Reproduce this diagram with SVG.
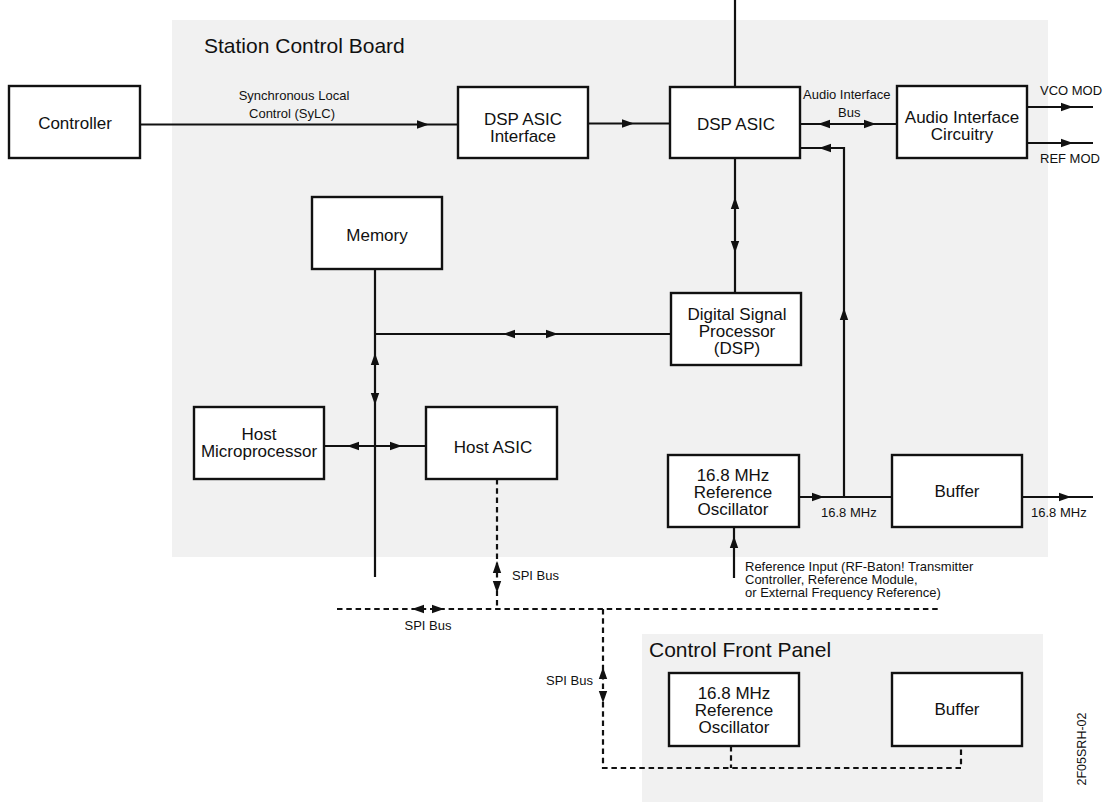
<svg xmlns="http://www.w3.org/2000/svg" xmlns:xlink="http://www.w3.org/1999/xlink" width="1107" height="802" viewBox="0 0 1107 802">
  <style>
    text { font-family: "Liberation Sans", Arial, Helvetica, sans-serif; fill: #111; }
    .panel { fill: #f1f1f1; stroke: none; }
    .title { font-size: 21px; }
    .box { fill: #fff; stroke: #111; stroke-width: 2.4; }
    .bt { font-size: 17px; text-anchor: middle; }
    .lbl { font-size: 13px; }
    .mid { text-anchor: middle; }
    .end { text-anchor: end; }
    .wire { fill: none; stroke: #111; stroke-width: 2.2; }
    .dash { fill: none; stroke: #111; stroke-width: 2.2; stroke-dasharray: 5.5 3.8; }
    .tag { font-size: 12.5px; text-anchor: middle; }
  </style>
  <defs>
    <!-- filled arrowhead, tip at the origin, pointing along +x -->
    <path id="ah" d="M0,0 L-12,-4.2 L-12,4.2 Z" fill="#111"/>
  </defs>

  <!-- board outlines -->
  <g id="station-control-board">
    <rect class="panel" x="172" y="20" width="876" height="537"/>
    <text class="title" x="204" y="53">Station Control Board</text>
  </g>
  <g id="control-front-panel">
    <rect class="panel" x="642" y="634" width="401" height="168"/>
    <text class="title" x="649" y="657">Control Front Panel</text>
  </g>

  <!-- connectors -->
  <g id="connectors">
    <!-- SyLC link -->
    <line class="wire" x1="140" y1="124.5" x2="458" y2="124.5"/>
    <use xlink:href="#ah" transform="translate(429,124.5)"/>
    <!-- DSP ASIC Interface to DSP ASIC -->
    <line class="wire" x1="588" y1="123.5" x2="670" y2="123.5"/>
    <use xlink:href="#ah" transform="translate(634,123.5)"/>
    <!-- line leaving the top of the DSP ASIC -->
    <line class="wire" x1="735" y1="0" x2="735" y2="87"/>
    <!-- audio interface bus -->
    <line class="wire" x1="800" y1="124" x2="897" y2="124"/>
    <use xlink:href="#ah" transform="translate(818,124) rotate(180)"/>
    <use xlink:href="#ah" transform="translate(876,124)"/>
    <!-- modulation outputs -->
    <line class="wire" x1="1027" y1="107" x2="1093" y2="107"/>
    <use xlink:href="#ah" transform="translate(1073,107)"/>
    <line class="wire" x1="1027" y1="143" x2="1093" y2="143"/>
    <use xlink:href="#ah" transform="translate(1073,143)"/>
    <!-- DSP ASIC to DSP -->
    <line class="wire" x1="735" y1="158" x2="735" y2="293"/>
    <use xlink:href="#ah" transform="translate(735,197) rotate(-90)"/>
    <use xlink:href="#ah" transform="translate(735,253) rotate(90)"/>
    <!-- 16.8 MHz feed back to the DSP ASIC -->
    <polyline class="wire" points="844,497 844,148 800,148"/>
    <use xlink:href="#ah" transform="translate(844,308) rotate(-90)"/>
    <use xlink:href="#ah" transform="translate(819,148) rotate(180)"/>
    <!-- oscillator to buffer, buffer output -->
    <line class="wire" x1="799" y1="497" x2="892" y2="497"/>
    <use xlink:href="#ah" transform="translate(824,497)"/>
    <line class="wire" x1="1022" y1="497" x2="1093" y2="497"/>
    <use xlink:href="#ah" transform="translate(1071,497)"/>
    <!-- reference input -->
    <line class="wire" x1="734" y1="578" x2="734" y2="527"/>
    <use xlink:href="#ah" transform="translate(734,536) rotate(-90)"/>
    <!-- memory / host bus -->
    <line class="wire" x1="375" y1="269" x2="375" y2="577"/>
    <line class="wire" x1="375" y1="334" x2="671" y2="334"/>
    <use xlink:href="#ah" transform="translate(503,334) rotate(180)"/>
    <use xlink:href="#ah" transform="translate(558,334)"/>
    <use xlink:href="#ah" transform="translate(375,353) rotate(-90)"/>
    <use xlink:href="#ah" transform="translate(375,405) rotate(90)"/>
    <line class="wire" x1="324" y1="446" x2="426" y2="446"/>
    <use xlink:href="#ah" transform="translate(347,446) rotate(180)"/>
    <use xlink:href="#ah" transform="translate(402,446)"/>
    <!-- SPI bus -->
    <line class="dash" x1="497" y1="479" x2="497" y2="609"/>
    <use xlink:href="#ah" transform="translate(497,561) rotate(-90)"/>
    <use xlink:href="#ah" transform="translate(497,593) rotate(90)"/>
    <line class="dash" x1="337" y1="609" x2="938" y2="609"/>
    <use xlink:href="#ah" transform="translate(412,609) rotate(180)"/>
    <use xlink:href="#ah" transform="translate(444,609)"/>
    <polyline class="dash" points="603,609 603,768 961,768 961,746"/>
    <line class="dash" x1="731" y1="746" x2="731" y2="768"/>
    <use xlink:href="#ah" transform="translate(603,667) rotate(-90)"/>
    <use xlink:href="#ah" transform="translate(603,703) rotate(90)"/>
  </g>

  <!-- connector labels -->
  <g id="labels">
    <text class="lbl mid"><tspan x="294" y="100">Synchronous Local</tspan><tspan x="292" y="118">Control (SyLC)</tspan></text>
    <text class="lbl"><tspan x="803" y="99">Audio Interface</tspan><tspan x="838" y="117">Bus</tspan></text>
    <text class="lbl" x="1040" y="95">VCO MOD</text>
    <text class="lbl" x="1040" y="163">REF MOD</text>
    <text class="lbl" x="821" y="517">16.8 MHz</text>
    <text class="lbl" x="1031" y="517">16.8 MHz</text>
    <text class="lbl"><tspan x="745" y="571">Reference Input (RF-Baton! Transmitter</tspan><tspan x="745" y="584">Controller, Reference Module,</tspan><tspan x="745" y="597">or External Frequency Reference)</tspan></text>
    <text class="lbl" x="512" y="580">SPI Bus</text>
    <text class="lbl mid" x="428" y="630">SPI Bus</text>
    <text class="lbl end" x="593" y="685">SPI Bus</text>
  </g>

  <!-- nodes -->
  <g id="controller">
    <rect class="box" x="9" y="86" width="131" height="72"/>
    <text class="bt" x="75" y="129">Controller</text>
  </g>
  <g id="dsp-asic-interface">
    <rect class="box" x="458" y="87" width="130" height="71"/>
    <text class="bt"><tspan x="523" y="125">DSP ASIC</tspan><tspan x="523" y="142">Interface</tspan></text>
  </g>
  <g id="dsp-asic">
    <rect class="box" x="670" y="87" width="130" height="71"/>
    <text class="bt" x="736" y="130">DSP ASIC</text>
  </g>
  <g id="audio-interface-circuitry">
    <rect class="box" x="897" y="86" width="130" height="72"/>
    <text class="bt"><tspan x="962" y="123">Audio Interface</tspan><tspan x="962" y="140">Circuitry</tspan></text>
  </g>
  <g id="memory">
    <rect class="box" x="312" y="197" width="130" height="72"/>
    <text class="bt" x="377" y="241">Memory</text>
  </g>
  <g id="dsp">
    <rect class="box" x="671" y="293" width="130" height="72"/>
    <text class="bt"><tspan x="737" y="320">Digital Signal</tspan><tspan x="737" y="337">Processor</tspan><tspan x="737" y="354">(DSP)</tspan></text>
  </g>
  <g id="host-microprocessor">
    <rect class="box" x="194" y="407" width="130" height="72"/>
    <text class="bt"><tspan x="259" y="440">Host</tspan><tspan x="259" y="457">Microprocessor</tspan></text>
  </g>
  <g id="host-asic">
    <rect class="box" x="426" y="407" width="131" height="72"/>
    <text class="bt" x="493" y="453">Host ASIC</text>
  </g>
  <g id="reference-oscillator">
    <rect class="box" x="668" y="455" width="131" height="72"/>
    <text class="bt"><tspan x="733" y="481">16.8 MHz</tspan><tspan x="733" y="498">Reference</tspan><tspan x="733" y="515">Oscillator</tspan></text>
  </g>
  <g id="buffer">
    <rect class="box" x="892" y="455" width="130" height="72"/>
    <text class="bt" x="957" y="497">Buffer</text>
  </g>
  <g id="panel-reference-oscillator">
    <rect class="box" x="669" y="673" width="130" height="73"/>
    <text class="bt"><tspan x="734" y="699">16.8 MHz</tspan><tspan x="734" y="716">Reference</tspan><tspan x="734" y="733">Oscillator</tspan></text>
  </g>
  <g id="panel-buffer">
    <rect class="box" x="892" y="673" width="130" height="73"/>
    <text class="bt" x="957" y="715">Buffer</text>
  </g>

  <!-- drawing number -->
  <text class="tag" transform="translate(1086,749) rotate(-90)">2F05SRH-02</text>
</svg>
